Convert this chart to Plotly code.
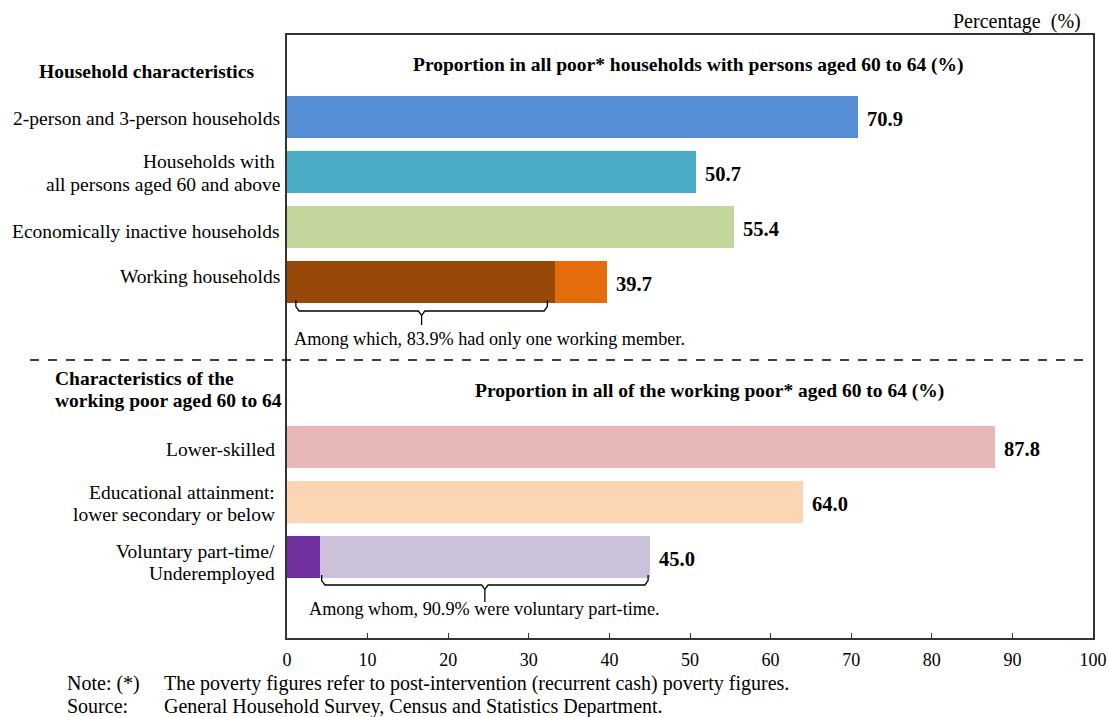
import plotly.graph_objects as go

# ---------------- data ----------------
household_labels = ["2-person and 3-person households",
                    "Households with<br>all persons aged 60 and above",
                    "Economically inactive households",
                    "Working households"]
household_values = [70.9, 50.7, 55.4, 39.7]
household_colors = ["#558ED5", "#4BACC6", "#C3D69B", "#984807"]
working_one_member_share = 83.9          # % of working households
working_rest_color = "#E46C0A"

workpoor_labels = ["Lower-skilled",
                   "Educational attainment:<br>lower secondary or below",
                   "Voluntary part-time/<br>Underemployed"]
workpoor_values = [87.8, 64.0, 45.0]
workpoor_colors = ["#E6B9B8", "#FCD5B5", "#7030A0"]
voluntary_share = 90.9                   # % of part-time/underemployed
voluntary_color = "#CCC1DA"

x_ticks = [0, 10, 20, 30, 40, 50, 60, 70, 80, 90, 100]

# ---------------- layout helpers ----------------
FONT = "Liberation Serif, Times New Roman, serif"
L, R, T, B = 287, 16, 35, 79
W, H = 1109, 717
PW = W - L - R
PY0, UNIT = 117, 55.0          # pixel centre of first bar, pixels per y unit


def yu(py):
    return (py - PY0) / UNIT


def xu(px):
    return (px - L) / PW * 100


def xp(px):
    return (px - L) / PW


def yp(py):
    return (H - B - py) / (H - B - T)


pos = [0, 1, 2, 3, 6, 7, 8]

working_main = round(household_values[3] * working_one_member_share / 100, 1)
working_rest = round(household_values[3] - working_main, 1)
vol_other = round(workpoor_values[2] * (100 - voluntary_share) / 100, 1)
vol_part = round(workpoor_values[2] - vol_other, 1)

first_seg = household_values[:3] + [working_main] + workpoor_values[:2] + [vol_other]
first_col = household_colors + workpoor_colors
second_seg = [0, 0, 0, working_rest, 0, 0, vol_part]
second_col = ["rgba(0,0,0,0)"] * 3 + [working_rest_color] + ["rgba(0,0,0,0)"] * 2 + [voluntary_color]

fig = go.Figure()
fig.add_trace(go.Bar(y=pos, x=first_seg, orientation="h", width=0.75,
                     marker=dict(color=first_col, line=dict(width=0)),
                     hoverinfo="x"))
fig.add_trace(go.Bar(y=pos, x=second_seg, orientation="h", width=0.75,
                     marker=dict(color=second_col, line=dict(width=0)),
                     hoverinfo="x"))


# braces
def brace(x0, x1, ytop, yh, ytip):
    mid = (x0 + x1) / 2
    d = 0.4
    e = 0.08
    xs = [x0, x0, x0 + d, mid - d, mid, mid, mid, mid + d, x1 - d, x1, x1]
    ys = [ytop, yh - e, yh, yh, yh + e, ytip, yh + e, yh, yh, yh - e, ytop]
    return xs, ys


bx, by = brace(1.1, 32.3, yu(300), yu(311), yu(325))
fig.add_trace(go.Scatter(x=bx, y=by, mode="lines", line=dict(color="black", width=1.3),
                         hoverinfo="skip"))
bx, by = brace(4.3, 44.8, yu(575), yu(585), yu(602))
fig.add_trace(go.Scatter(x=bx, y=by, mode="lines", line=dict(color="black", width=1.3),
                         hoverinfo="skip"))

ann = []


def text(x, y, s, xanchor="center", xref="x", yref="y", size=19.5, bold=False,
         xshift=0, yshift=0, align="left"):
    if bold:
        s = "<b>" + s + "</b>"
    ann.append(dict(x=x, y=y, xref=xref, yref=yref, text=s, showarrow=False,
                    xanchor=xanchor, yanchor="middle", xshift=xshift, yshift=yshift,
                    align=align, font=dict(family=FONT, size=size, color="black")))


# left labels
text(0, yu(71), "Household characteristics", xanchor="center", xshift=146 - L, bold=True)
text(0, yu(118), household_labels[0], xanchor="right", xshift=-5)
l1, l2 = household_labels[1].split("<br>")
text(0, yu(161), l1, xanchor="right", xshift=-10)
text(0, yu(184), l2, xanchor="right", xshift=-5)
text(0, yu(231), household_labels[2], xanchor="right", xshift=-5)
text(0, yu(276), household_labels[3], xanchor="right", xshift=-5)

text(0, yu(378), "Characteristics of the", xanchor="left", xshift=53 - L, bold=True)
text(0, yu(400), "working poor aged 60 to 64", xanchor="left", xshift=53 - L, bold=True)
text(0, yu(449), workpoor_labels[0], xanchor="right", xshift=-10)
l1, l2 = workpoor_labels[1].split("<br>")
text(0, yu(492), l1, xanchor="right", xshift=-10)
text(0, yu(514), l2, xanchor="right", xshift=-10)
l1, l2 = workpoor_labels[2].split("<br>")
text(0, yu(551), l1, xanchor="right", xshift=-10)
text(0, yu(573), l2, xanchor="right", xshift=-10)

# inner titles
text(xu(688), yu(65), "Proportion in all poor* households with persons aged 60 to 64 (%)", bold=True)
text(xu(709), yu(391), "Proportion in all of the working poor* aged 60 to 64 (%)", bold=True)

# value labels
totals = household_values + workpoor_values
for p, v in zip(pos, totals):
    text(v, p, f"{v:.1f}", xanchor="left", xshift=7, size=20.5, bold=True, yshift=-2)

# brace notes
text(xu(292), yu(339), f"Among which, {working_one_member_share}% had only one working member.",
     xanchor="left", size=18.2)
text(xu(307), yu(609), f"Among whom, {voluntary_share}% were voluntary part-time.",
     xanchor="left", size=18.2)

# header / footer
text(xp(1083), yp(22), "Percentage  (%)", xref="paper", yref="paper", xanchor="right", size=20)
text(xp(65), yp(683), "Note: (*)", xref="paper", yref="paper", xanchor="left", size=20)
text(xp(162), yp(683), "The poverty figures refer to post-intervention (recurrent cash) poverty figures.",
     xref="paper", yref="paper", xanchor="left", size=20)
text(xp(65), yp(706), "Source:", xref="paper", yref="paper", xanchor="left", size=20)
text(xp(162), yp(706), "General Household Survey, Census and Statistics Department.",
     xref="paper", yref="paper", xanchor="left", size=20)

fig.update_layout(
    width=W, height=H,
    margin=dict(l=L, r=R, t=T, b=B, autoexpand=False),
    barmode="stack",
    showlegend=False,
    plot_bgcolor="white",
    paper_bgcolor="white",
    bargap=0,
    annotations=ann,
    shapes=[dict(type="line", xref="paper", yref="y", x0=xp(30), x1=xp(1090),
                 y0=yu(360), y1=yu(360), line=dict(color="black", width=1.5, dash="dash"))],
    xaxis=dict(range=[0, 100], tickvals=x_ticks, ticks="inside", ticklen=5, tickwidth=1.3,
               tickcolor="#333", showline=True, linecolor="#333", linewidth=1.5, mirror=True,
               showgrid=False, zeroline=False, fixedrange=True, automargin=False,
               tickfont=dict(family=FONT, size=18, color="black"), ticklabelstandoff=5),
    yaxis=dict(range=[yu(H - B), yu(T)], showticklabels=False, ticks="", showline=True,
               linecolor="#333", linewidth=1.5, mirror=True, showgrid=False, zeroline=False,
               fixedrange=True, automargin=False),
)

fig.write_html("out.html")
